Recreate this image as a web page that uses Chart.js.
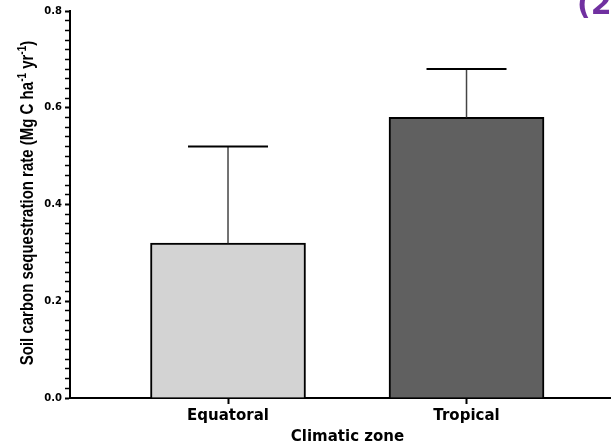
<!DOCTYPE html>
<html>
<head>
<meta charset="utf-8">
<script src="https://cdn.jsdelivr.net/npm/chart.js@4"></script>
<style>
  html, body { margin: 0; padding: 0; background: #fff; overflow: hidden; }
  #wrap { width: 611px; height: 446px; overflow: hidden; }
</style>
</head>
<body>
<div id="wrap"><canvas id="chart" width="625" height="446"></canvas></div>
<script>
const zones = ['Equatoral', 'Tropical'];
const rates = [0.32, 0.58];
const upperErr = [0.52, 0.68];
const barColors = ['#d3d3d3', '#606060'];

const wide = "'DejaVu Sans', sans-serif";
const arial = "Arial, 'Liberation Sans', sans-serif";

// y title, drawn by hand so the unit can carry real superscripts
const yTitleParts = [
  ['Soil carbon sequestration rate (Mg C ha', false],
  ['-1', true],
  [' yr', false],
  ['-1', true],
  [')', false]
];

const extras = {
  id: 'extras',
  afterDatasetsDraw(chart) {
    const ctx = chart.ctx;
    const xs = chart.scales.x, ys = chart.scales.y;
    ctx.save();
    rates.forEach((v, i) => {
      const x = xs.getPixelForValue(i + 1);
      const yb = ys.getPixelForValue(v);
      const yt = ys.getPixelForValue(upperErr[i]);
      ctx.strokeStyle = '#444';
      ctx.lineWidth = 1.5;
      ctx.beginPath();
      ctx.moveTo(x, yb);
      ctx.lineTo(x, yt);
      ctx.stroke();
      ctx.strokeStyle = '#000';
      ctx.lineWidth = 2;
      ctx.beginPath();
      ctx.moveTo(x - 40, yt);
      ctx.lineTo(x + 40, yt);
      ctx.stroke();
    });

    // y axis title
    const big = 'bold 15px ' + arial, small = 'bold 10px ' + arial;
    let total = 0;
    yTitleParts.forEach(p => { ctx.font = p[1] ? small : big; total += ctx.measureText(p[0]).width; });
    ctx.translate(33, 203);
    ctx.scale(1.2, 1);
    ctx.rotate(-Math.PI / 2);
    ctx.fillStyle = '#000';
    ctx.textBaseline = 'alphabetic';
    let tx = -total / 2;
    yTitleParts.forEach(p => {
      ctx.font = p[1] ? small : big;
      ctx.fillText(p[0], tx, p[1] ? -6 : 0);
      tx += ctx.measureText(p[0]).width;
    });
    ctx.restore();

    ctx.save();
    ctx.fillStyle = '#7030a0';
    ctx.font = 'bold 30px ' + wide;
    ctx.fillText('(2', 577, 14);
    ctx.restore();
  }
};

new Chart(document.getElementById('chart'), {
  type: 'bar',
  data: {
    datasets: [{
      data: rates.map((v, i) => ({ x: i + 1, y: v })),
      backgroundColor: barColors,
      borderColor: '#000',
      borderWidth: 2,
      borderSkipped: 'bottom',
      barThickness: 155
    }]
  },
  options: {
    responsive: false,
    animation: false,
    layout: { padding: { top: 11, right: 0, left: 0, bottom: 0 } },
    plugins: { legend: { display: false }, tooltip: { enabled: false } },
    scales: {
      x: {
        type: 'linear',
        offset: false,
        min: 0.3375,
        max: 2.6645,
        afterBuildTicks: axis => { axis.ticks = [{ value: 1 }, { value: 2 }]; },
        afterFit: axis => { axis.height = 48; },
        grid: { drawOnChartArea: false, offset: false, tickLength: 6, tickWidth: 2, tickColor: '#000' },
        border: { color: '#000', width: 2 },
        ticks: {
          autoSkip: false,
          maxRotation: 0,
          padding: 3,
          color: '#000',
          font: { family: wide, size: 15, weight: 'bold' },
          callback: v => zones[v - 1] || ''
        },
        title: {
          display: true,
          text: 'Climatic zone',
          color: '#000',
          padding: { top: 2, bottom: 0 },
          font: { family: wide, size: 15, weight: 'bold' }
        }
      },
      y: {
        min: 0,
        max: 0.8,
        afterBuildTicks: axis => {
          const t = [];
          for (let k = 0; k <= 40; k++) t.push({ value: k * 0.02 });
          axis.ticks = t;
        },
        afterFit: axis => { axis.width = 70; },
        grid: {
          drawOnChartArea: false,
          tickLength: 5,
          tickColor: '#000',
          tickWidth: c => (Math.round(c.tick.value * 100) % 20 === 0 ? 2 : 1.5)
        },
        border: { color: '#000', width: 2 },
        ticks: {
          autoSkip: false,
          padding: 3,
          color: '#000',
          font: { family: wide, size: 10, weight: 'bold' },
          callback: v => {
            const r = Math.round(v * 100);
            return r % 20 === 0 ? (r / 100).toFixed(1) : '';
          }
        }
      }
    }
  },
  plugins: [extras]
});
</script>
</body>
</html>
